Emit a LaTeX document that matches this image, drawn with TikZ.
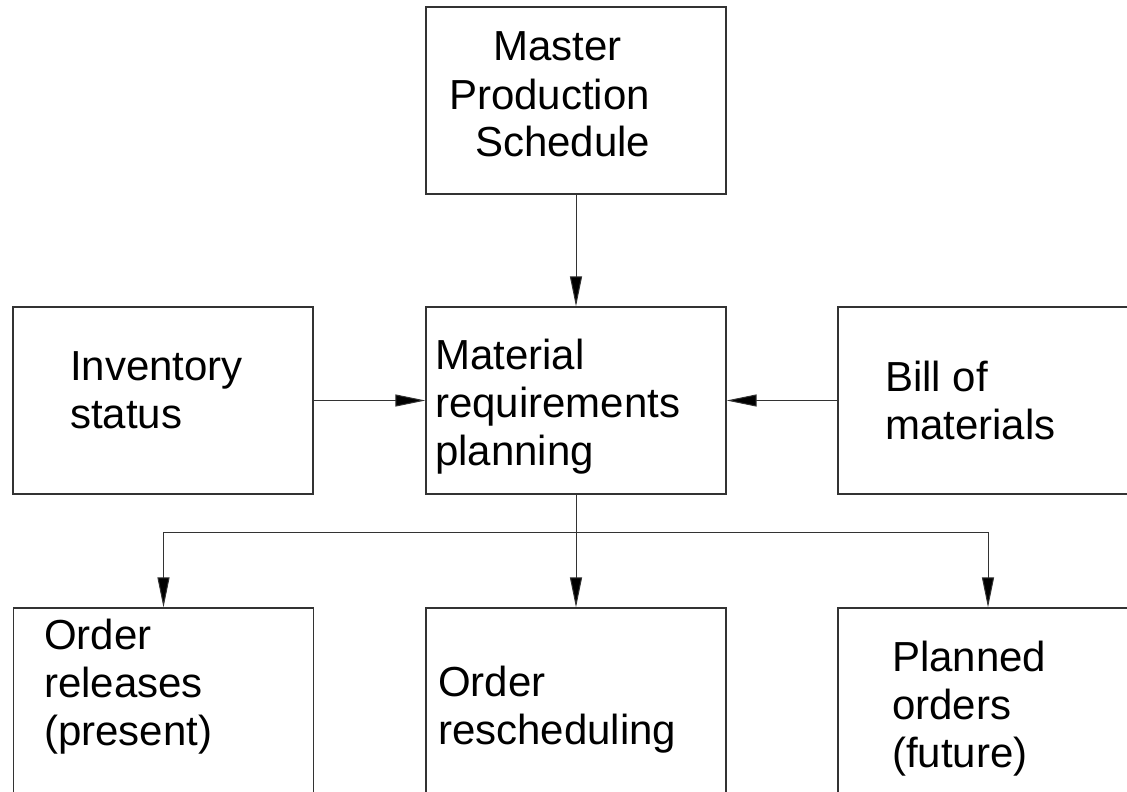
\documentclass[tikz,border=0pt]{standalone}
\usepackage{fontspec}
\setmainfont{Liberation Sans}
\usetikzlibrary{arrows.meta}
\newcommand{\mylines}[1]{\vtop{\baselineskip=48pt\lineskiplimit=0pt #1}}
\begin{document}
\begin{tikzpicture}[x=1pt,y=-1pt,
  box/.style={draw=black!80,line width=1.1pt,minimum width=300pt,minimum height=187pt,inner sep=0pt},
  txt/.style={inner sep=0pt,anchor=base west,font=\fontsize{42}{48}\selectfont},
  arr/.style={draw=black!80,line width=1pt,-{Triangle[length=30pt,width=12pt,fill=black]}},
  ln/.style={draw=black!80,line width=1pt}]
\useasboundingbox (0,0) rectangle (1127,792);
% boxes
\node[box] (mps) at (576,100.5) {};
\node[box] (inv) at (163,400.5) {};
\node[box] (mrp) at (576,400.5) {};
\node[box] (bom) at (988,400.5) {};
\node[box] (orel) at (163.5,701.5) {};
\node[box] (ores) at (576,701.5) {};
\node[box] (plan) at (988,701.5) {};
% texts
\node[txt] (tmps) at (449,61) {\mylines{\hbox{\kern44pt Master}\hbox{Production}\hbox{\kern26pt Schedule}}};
\node[txt] (tinv) at (70,380) {\mylines{\hbox{Inventory}\hbox{status}}};
\node[txt] (tmrp) at (435,369) {\mylines{\hbox{Material}\hbox{requirements}\hbox{planning}}};
\node[txt] (tbom) at (885,391) {\mylines{\hbox{Bill of}\hbox{materials}}};
\node[txt] (torel) at (44,649) {\mylines{\hbox{Order}\hbox{releases}\hbox{(present)}}};
\node[txt] (tores) at (438,696) {\mylines{\hbox{Order}\hbox{rescheduling}}};
\node[txt] (tplan) at (892,671) {\mylines{\hbox{Planned}\hbox{orders}\hbox{(future)}}};
% connectors
\draw[arr] (mps.south) -- (mrp.north);
\draw[arr] (inv.east) -- (mrp.west);
\draw[arr] (bom.west) -- (mrp.east);
\draw[arr] (mrp.south) -- (ores.north);
\coordinate (split) at (576,532);
\draw[arr] (split) -| (orel.north);
\draw[arr] (split) -| (plan.north);
\end{tikzpicture}
\end{document}
